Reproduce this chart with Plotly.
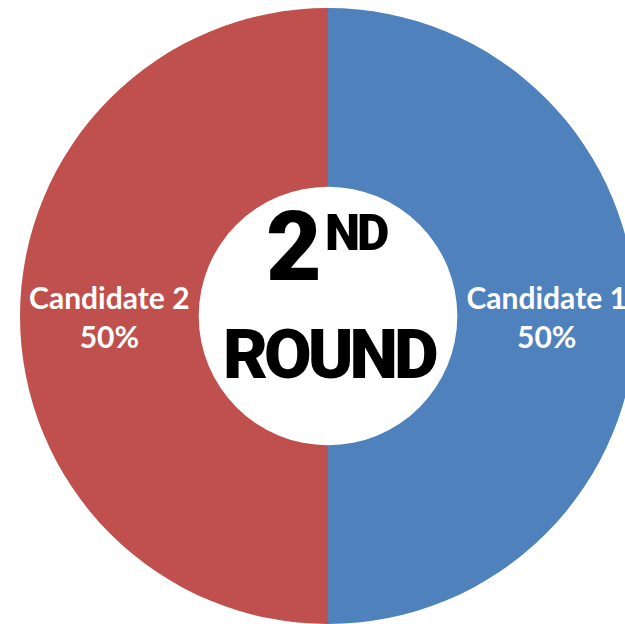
import plotly.graph_objects as go

# Second-round vote share
candidates = ["Candidate 1", "Candidate 2"]
shares = [50, 50]
colors = ["#4F81BD", "#C0504D"]

fig = go.Figure(
    go.Pie(
        labels=candidates,
        values=shares,
        hole=0.42,
        sort=False,
        direction="clockwise",
        rotation=0,
        marker=dict(colors=colors, line=dict(width=0)),
        textinfo="label+percent",
        textposition="inside",
        insidetextorientation="horizontal",
        textfont=dict(family="Lato", size=30, color="white", weight="bold"),
        showlegend=False,
        hoverinfo="label+percent",
    )
)

title_font = dict(family="Roboto, DejaVu Sans Condensed, sans-serif",
                  color="black", weight=900)


def tight(s, px):
    return f'<span style="letter-spacing:{px}px">{s}</span>'


# Centre title: "2ND ROUND" with a raised, smaller "ND"
fig.add_annotation(text="2", x=0.444, y=0.612, xref="paper", yref="paper",
                   showarrow=False, xanchor="center", yanchor="middle",
                   font=dict(size=96, **title_font))
fig.add_annotation(text=tight("ND", -3), x=0.546, y=0.635, xref="paper", yref="paper",
                   showarrow=False, xanchor="center", yanchor="middle",
                   font=dict(size=50, **title_font))
fig.add_annotation(text=tight("ROUND", -4), x=0.503, y=0.437, xref="paper", yref="paper",
                   showarrow=False, xanchor="center", yanchor="middle",
                   font=dict(size=69, **title_font))

fig.update_layout(
    width=636,
    height=624,
    autosize=False,
    margin=dict(l=20, r=0, t=8, b=0),
    paper_bgcolor="white",
    plot_bgcolor="white",
)

fig.write_html("out.html", config={"displayModeBar": False})
